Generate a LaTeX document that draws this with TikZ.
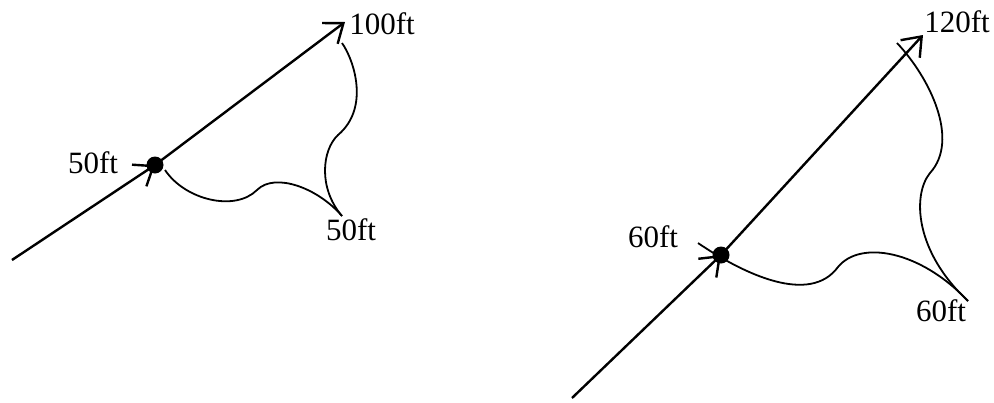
\documentclass[tikz,border=0pt]{standalone}
\usepackage{fontspec}
\setmainfont{Liberation Serif}
\usetikzlibrary{arrows.meta}
\tikzset{
  mainline/.style={line width=2.4pt, -{Straight Barb[length=17pt,width=26pt,line width=2.4pt]}},
  curveline/.style={line width=1.8pt},
  dotnode/.style={circle, fill=black, inner sep=0pt, minimum size=17pt},
  lbl/.style={inner sep=0pt, font=\fontsize{31}{36}\selectfont}
}
\begin{document}
\begin{tikzpicture}[x=1pt,y=-1pt]
\useasboundingbox (0,0) rectangle (994,402);
% left figure
\coordinate (L0) at (12,260);
\node[dotnode] (LD) at (155,165) {};
\coordinate (LT) at (345,22);
\draw[mainline] (L0) -- (LD.center);
\draw[mainline] (LD.center) -- (LT);
\coordinate (LA) at (342,43);
\coordinate (LB) at (342,216);
\coordinate (LC) at (165,170);
\draw[curveline] (LA) .. controls (354,60) and (370,108) .. (338,135)
  .. controls (322,150) and (318,188) .. (LB);
\draw[curveline] (LC) .. controls (185,200) and (235,212) .. (257,190)
  .. controls (275,172) and (318,188) .. (LB);
\node[lbl] (l100) at (382,24) {100ft};
\node[lbl] (l50a) at (93,163) {50ft};
\node[lbl] (l50b) at (351,230) {50ft};
% right figure
\coordinate (R0) at (572,398);
\node[dotnode] (RD) at (721,255) {};
\coordinate (RT) at (923,35);
\draw[mainline] (R0) -- (RD.center);
\draw[mainline] (RD.center) -- (RT);
\coordinate (RA) at (897,43);
\coordinate (RB) at (968,301);
\coordinate (RC) at (698,243);
\draw[curveline] (RA) .. controls (930,78) and (960,140) .. (930,173)
  .. controls (912,195) and (915,252) .. (RB);
\draw[curveline] (RC) .. controls (745,275) and (810,305) .. (838,267)
  .. controls (860,240) and (920,250) .. (RB);
\node[lbl] (l120) at (957,22) {120ft};
\node[lbl] (l60a) at (653,237) {60ft};
\node[lbl] (l60b) at (941,311) {60ft};
\end{tikzpicture}
\end{document}
